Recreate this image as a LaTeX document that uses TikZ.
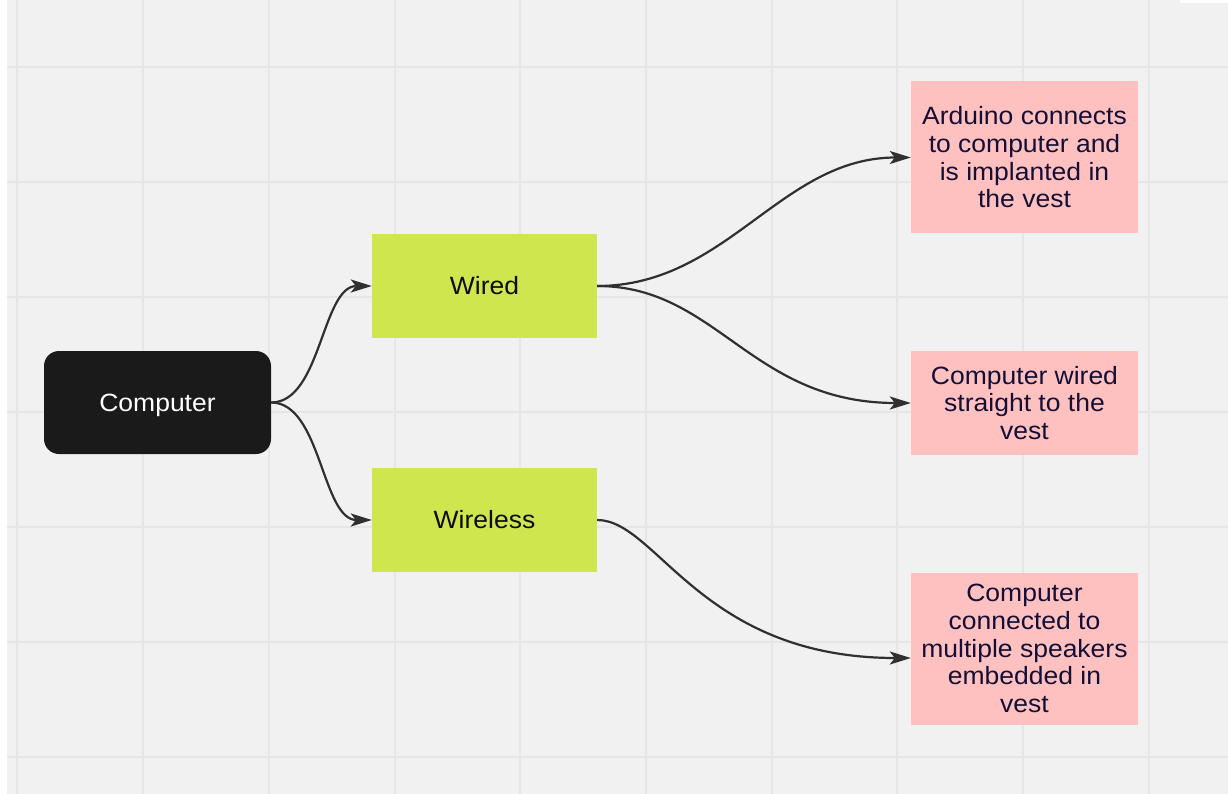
\documentclass[tikz,border=0pt]{standalone}
\usepackage{fontspec}
\setmainfont[FakeStretch=1.06]{Liberation Sans}
\usetikzlibrary{arrows.meta}
\definecolor{bg}{HTML}{F1F1F1}
\definecolor{gridc}{HTML}{E6E6E6}
\definecolor{lime}{HTML}{CFE64F}
\definecolor{pinkc}{HTML}{FFC0C0}
\definecolor{navy}{HTML}{130F36}
\definecolor{edgec}{HTML}{303030}
\definecolor{darkbox}{HTML}{1A1A1A}
\begin{document}
\begin{tikzpicture}[x=1pt,y=-1pt,
  base/.style={inner sep=0pt, font=\fontsize{25}{27.7}\selectfont, align=center},
  compbox/.style={base, fill=darkbox, rounded corners=15pt, text=white, minimum width=227pt, minimum height=103pt, text height=18pt, text depth=0pt},
  midbox/.style={base, fill=lime, text=black!95, minimum width=225pt, minimum height=104pt},
  leafbox/.style={base, fill=pinkc, text=navy, minimum width=227pt},
  gridline/.style={draw=gridc, line width=1.3pt},
  conn/.style={draw=edgec, line width=2.2pt, -{Stealth[length=21pt,width=13pt,inset=5pt]}}]
\useasboundingbox (0,0) rectangle (1228,794);
\fill[white] (0,0) rectangle (1228,794);
\fill[bg] (7,0) rectangle (1228,794);
\fill[white] (1180,0) rectangle (1228,3);
\foreach \x in {17,143,269,395,520,646,772,897,1023,1149}
  \draw[gridline] (\x,0) -- (\x,794);
\foreach \y in {67,182,297,412,527,642,757}
  \draw[gridline] (7,\y) -- (1228,\y);

\node[compbox] (comp) at (157.5,402.5) {Computer};
\node[midbox] (wired) at (484.5,286) {Wired};
\node[midbox] (wireless) at (484.5,520) {Wireless};
\node[leafbox, minimum height=152pt] (a1) at (1024.5,157.5) {Arduino connects\\to computer and\\is implanted in\\the vest};
\node[leafbox, minimum height=104pt] (a2) at (1024.5,403) {Computer wired\\straight to the\\vest};
\node[leafbox, minimum height=152pt] (a3) at (1024.5,648.5) {Computer\\connected to\\multiple speakers\\embedded in\\vest};
\coordinate (a3end) at ([yshift=-9.5pt]a3.west);

\draw[conn] (comp.east) .. controls +(50,0) and +(-50,0) .. (wired.west);
\draw[conn] (comp.east) .. controls +(50,0) and +(-50,0) .. (wireless.west);
\draw[conn] (wired.east) .. controls +(130,0) and +(-130,0) .. (a1.west);
\draw[conn] (wired.east) .. controls +(120,0) and +(-160,0) .. (a2.west);
\draw[conn] (wireless.east) .. controls +(60,0) and +(-210,0) .. (a3end);
\end{tikzpicture}
\end{document}
